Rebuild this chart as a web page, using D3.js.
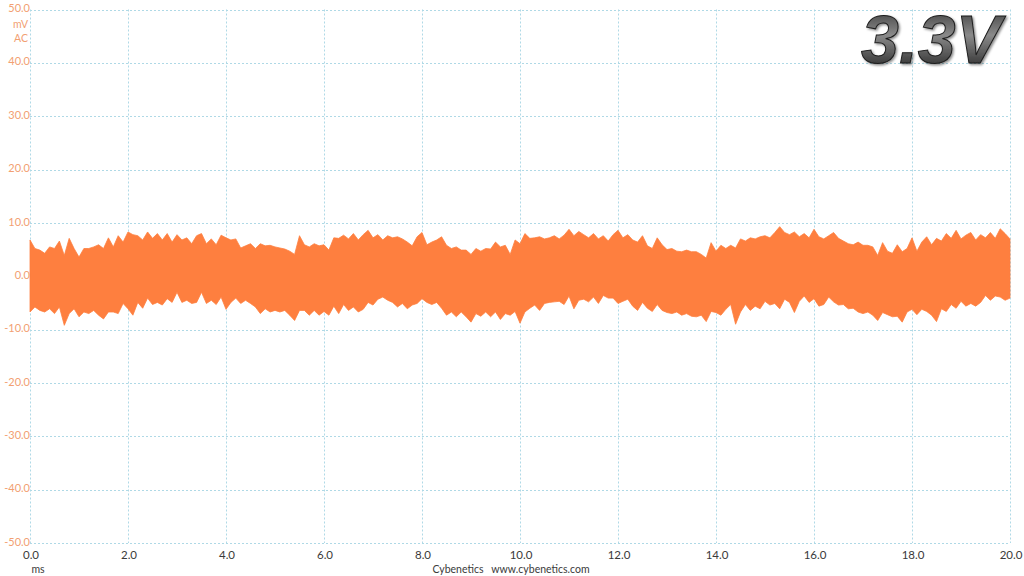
<!DOCTYPE html>
<html>
<head>
<meta charset="utf-8">
<script src="https://cdn.jsdelivr.net/npm/d3@7"></script>
<style>
  html, body { margin: 0; padding: 0; background: #fff; }
  svg { display: block; }
</style>
</head>
<body>
<div id="chart"></div>
<script>
// ---- Data ----
const timeStep = 0.1; // ms between envelope samples
const xTicks = [0, 2, 4, 6, 8, 10, 12, 14, 16, 18, 20];
const yTicks = [50, 40, 30, 20, 10, 0, -10, -20, -30, -40, -50];
const xUnit = "ms";
const yUnits = ["mV", "AC"];
const title = "3.3V";
const footer = "Cybenetics   www.cybenetics.com";

// Upper envelope of the ripple (mV), one value every 0.1 ms from 0 to 20 ms
const upper = [
  6.8,5.2,4.9,4.3,5.5,5.2,6.6,3.9,7.1,5.2, 3.6,5.2,5.2,5.5,5.9,5.2,7.2,5.5,7.6,6.4,
  8.3,7.8,7.6,6.8,8.3,7.1,8.0,6.8,8.0,6.4, 7.8,6.8,7.2,6.1,7.6,8.0,6.1,7.0,5.9,7.7,
  7.2,6.8,7.0,5.3,5.7,6.1,5.2,6.1,5.7,5.8, 5.5,5.3,5.1,4.7,4.1,7.6,5.9,5.5,6.1,5.7,
  5.9,4.9,7.2,7.1,7.7,7.0,8.0,6.8,7.8,8.6, 7.2,7.8,6.8,7.6,7.2,7.4,7.0,6.4,5.7,7.4,
  8.2,5.9,6.4,6.8,7.4,5.8,5.2,5.5,4.9,4.9, 4.1,5.2,4.7,5.2,5.1,6.4,5.5,5.8,4.1,6.8,
  6.1,8.0,7.1,7.2,7.4,7.0,7.2,7.6,7.0,7.7, 8.8,7.6,8.4,7.8,7.2,8.0,7.0,7.6,6.6,7.8,
  8.6,7.2,7.8,6.8,6.4,7.6,5.7,5.2,7.2,5.9, 5.0,5.2,4.7,4.6,4.9,4.6,4.6,4.1,3.4,6.3,
  4.7,5.8,5.2,5.8,5.3,7.0,6.6,7.2,7.0,7.4, 7.6,7.2,8.2,9.3,8.2,7.8,8.3,7.4,8.0,7.2,
  8.8,7.4,7.0,7.6,8.2,7.1,6.6,6.1,5.9,6.4, 5.8,5.8,5.5,3.9,6.3,4.7,4.3,5.9,4.6,5.2,
  7.2,4.7,6.4,7.4,5.9,7.1,6.6,8.0,7.1,8.6, 7.0,7.7,8.2,6.8,7.8,7.2,8.2,7.1,8.9,8.0,
  7.0
];

// Lower envelope of the ripple (mV), same time base
const lower = [
  -6.7,-5.75,-6.4,-6.7,-6.1,-7.0,-5.75,-9.2,-7.0,-6.1, -7.6,-6.7,-7.0,-6.4,-7.3,-8.0,-6.7,-6.7,-7.0,-5.1,
  -6.1,-7.3,-4.9,-6.0,-4.1,-5.3,-4.9,-5.4,-4.2,-4.9, -3.0,-4.9,-4.5,-5.1,-4.9,-3.0,-5.1,-4.5,-5.3,-3.9,
  -6.2,-4.9,-4.1,-5.1,-4.5,-5.1,-5.75,-7.0,-6.1,-6.7, -6.4,-6.7,-6.4,-7.3,-8.3,-6.4,-6.4,-7.3,-6.4,-7.3,
  -6.6,-7.3,-5.6,-7.0,-5.3,-6.4,-5.75,-6.7,-6.2,-4.9, -5.4,-4.3,-3.9,-4.5,-4.9,-5.75,-5.1,-6.1,-5.4,-5.1,
  -4.2,-4.9,-5.3,-4.9,-6.0,-7.3,-6.7,-7.6,-6.7,-7.6, -8.6,-7.0,-7.5,-6.7,-7.6,-6.7,-8.1,-7.0,-7.3,-6.6,
  -8.8,-6.7,-6.0,-5.4,-6.4,-5.1,-4.9,-4.8,-4.7,-5.3, -3.7,-6.1,-4.5,-4.3,-4.8,-3.9,-5.1,-3.6,-4.1,-4.1,
  -5.1,-4.7,-4.3,-5.6,-6.4,-4.9,-6.0,-6.6,-5.3,-6.4, -6.8,-7.0,-6.7,-7.3,-7.0,-7.5,-7.6,-7.3,-8.5,-6.6,
  -6.8,-7.3,-6.2,-5.3,-9.0,-6.7,-5.3,-6.4,-5.6,-6.1, -4.7,-5.4,-5.1,-6.1,-4.3,-4.9,-6.8,-4.7,-3.7,-4.9,
  -4.2,-5.6,-5.3,-3.9,-4.8,-5.4,-5.3,-6.1,-6.0,-6.7, -7.0,-6.7,-7.3,-8.3,-6.8,-7.2,-7.6,-7.5,-8.6,-6.7,
  -6.2,-7.2,-6.2,-6.6,-7.3,-8.5,-6.1,-6.6,-5.3,-6.0, -4.7,-5.6,-5.1,-5.6,-4.9,-3.6,-4.5,-3.7,-3.9,-4.5,
  -4.1
];

// ---- Drawing ----
const W = 1024, H = 576;
const svg = d3.select("#chart").append("svg").attr("width", W).attr("height", H);

const x = d3.scaleLinear().domain([0, 20]).range([30, 1010]);
const y = d3.scaleLinear().domain([-50, 50]).range([543, 9.5]);

const gridColor = "#afd9e6";
const yLabelColor = "#f2a072";
const xLabelColor = "#3a3a3a";
const fontFam = "Lato, 'Open Sans', 'DejaVu Sans', sans-serif";

// Gridlines
const grid = svg.append("g");
grid.selectAll("line.h").data(yTicks).enter().append("line")
  .attr("x1", x(0)).attr("x2", x(20))
  .attr("y1", d => Math.round(y(d)) + 0.5).attr("y2", d => Math.round(y(d)) + 0.5)
  .attr("stroke", gridColor).attr("stroke-width", 1).attr("stroke-dasharray", "2,2");
grid.selectAll("line.v").data(xTicks).enter().append("line")
  .attr("y1", y(50)).attr("y2", y(-50))
  .attr("x1", d => Math.round(x(d)) + 0.5).attr("x2", d => Math.round(x(d)) + 0.5)
  .attr("stroke", gridColor).attr("stroke-width", 1).attr("stroke-dasharray", "2,2");

// Waveform envelope
const env = upper.map((u, i) => ({ t: i * timeStep, hi: u, lo: lower[i] }));
const area = d3.area()
  .x(d => x(d.t))
  .y0(d => y(d.lo))
  .y1(d => y(d.hi))
  .curve(d3.curveLinear);
svg.append("path").datum(env)
  .attr("d", area)
  .attr("fill", "#fe7f3f")
  .attr("stroke", "#fe7f3f")
  .attr("stroke-width", 0.8)
  .attr("stroke-linejoin", "miter");

// Y tick labels
svg.append("g").selectAll("text").data(yTicks).enter().append("text")
  .attr("x", 30).attr("y", d => y(d) - 1)
  .attr("dy", "0.33em")
  .attr("text-anchor", "end")
  .attr("font-family", fontFam).attr("font-size", 11)
  .attr("fill", yLabelColor)
  .text(d => d.toFixed(1));

// Y units
svg.append("g").selectAll("text").data(yUnits).enter().append("text")
  .attr("x", 28).attr("y", (d, i) => 28 + i * 14)
  .attr("text-anchor", "end")
  .attr("font-family", fontFam).attr("font-size", 10.5)
  .attr("fill", yLabelColor)
  .text(d => d);

// X tick labels
svg.append("g").selectAll("text").data(xTicks).enter().append("text")
  .attr("x", d => x(d) + 1).attr("y", 559)
  .attr("text-anchor", "middle")
  .attr("font-family", fontFam).attr("font-size", 11.5)
  .attr("fill", xLabelColor)
  .text(d => d.toFixed(1));

// X unit
svg.append("text")
  .attr("x", 38).attr("y", 573)
  .attr("text-anchor", "middle")
  .attr("font-family", fontFam).attr("font-size", 10.5)
  .attr("fill", xLabelColor)
  .text(xUnit);

// Footer
svg.append("text")
  .attr("x", 511).attr("y", 573)
  .attr("text-anchor", "middle")
  .attr("font-family", fontFam).attr("font-size", 10.5)
  .attr("fill", xLabelColor)
  .attr("xml:space", "preserve")
  .style("white-space", "pre")
  .text(footer);

// Title with metallic gradient
const defs = svg.append("defs");
const grad = defs.append("linearGradient").attr("id", "metal")
  .attr("x1", 0).attr("y1", 0).attr("x2", 0).attr("y2", 1);
grad.append("stop").attr("offset", "0%").attr("stop-color", "#2e2e2e");
grad.append("stop").attr("offset", "45%").attr("stop-color", "#8a8a8a");
grad.append("stop").attr("offset", "100%").attr("stop-color", "#1a1a1a");
const shadow = defs.append("filter").attr("id", "shadow")
  .attr("x", "-10%").attr("y", "-10%").attr("width", "130%").attr("height", "130%");
shadow.append("feDropShadow").attr("dx", 1.5).attr("dy", 1.5).attr("stdDeviation", 1.2)
  .attr("flood-color", "#000").attr("flood-opacity", 0.45);

svg.append("text")
  .attr("x", 1001).attr("y", 63)
  .attr("text-anchor", "end")
  .attr("font-family", "'Liberation Sans', Arial, sans-serif")
  .attr("font-weight", "bold").attr("font-style", "italic")
  .attr("font-size", 68)
  .attr("fill", "url(#metal)")
  .attr("stroke", "#1a1a1a").attr("stroke-width", 1)
  .attr("filter", "url(#shadow)")
  .text(title);
</script>
</body>
</html>
